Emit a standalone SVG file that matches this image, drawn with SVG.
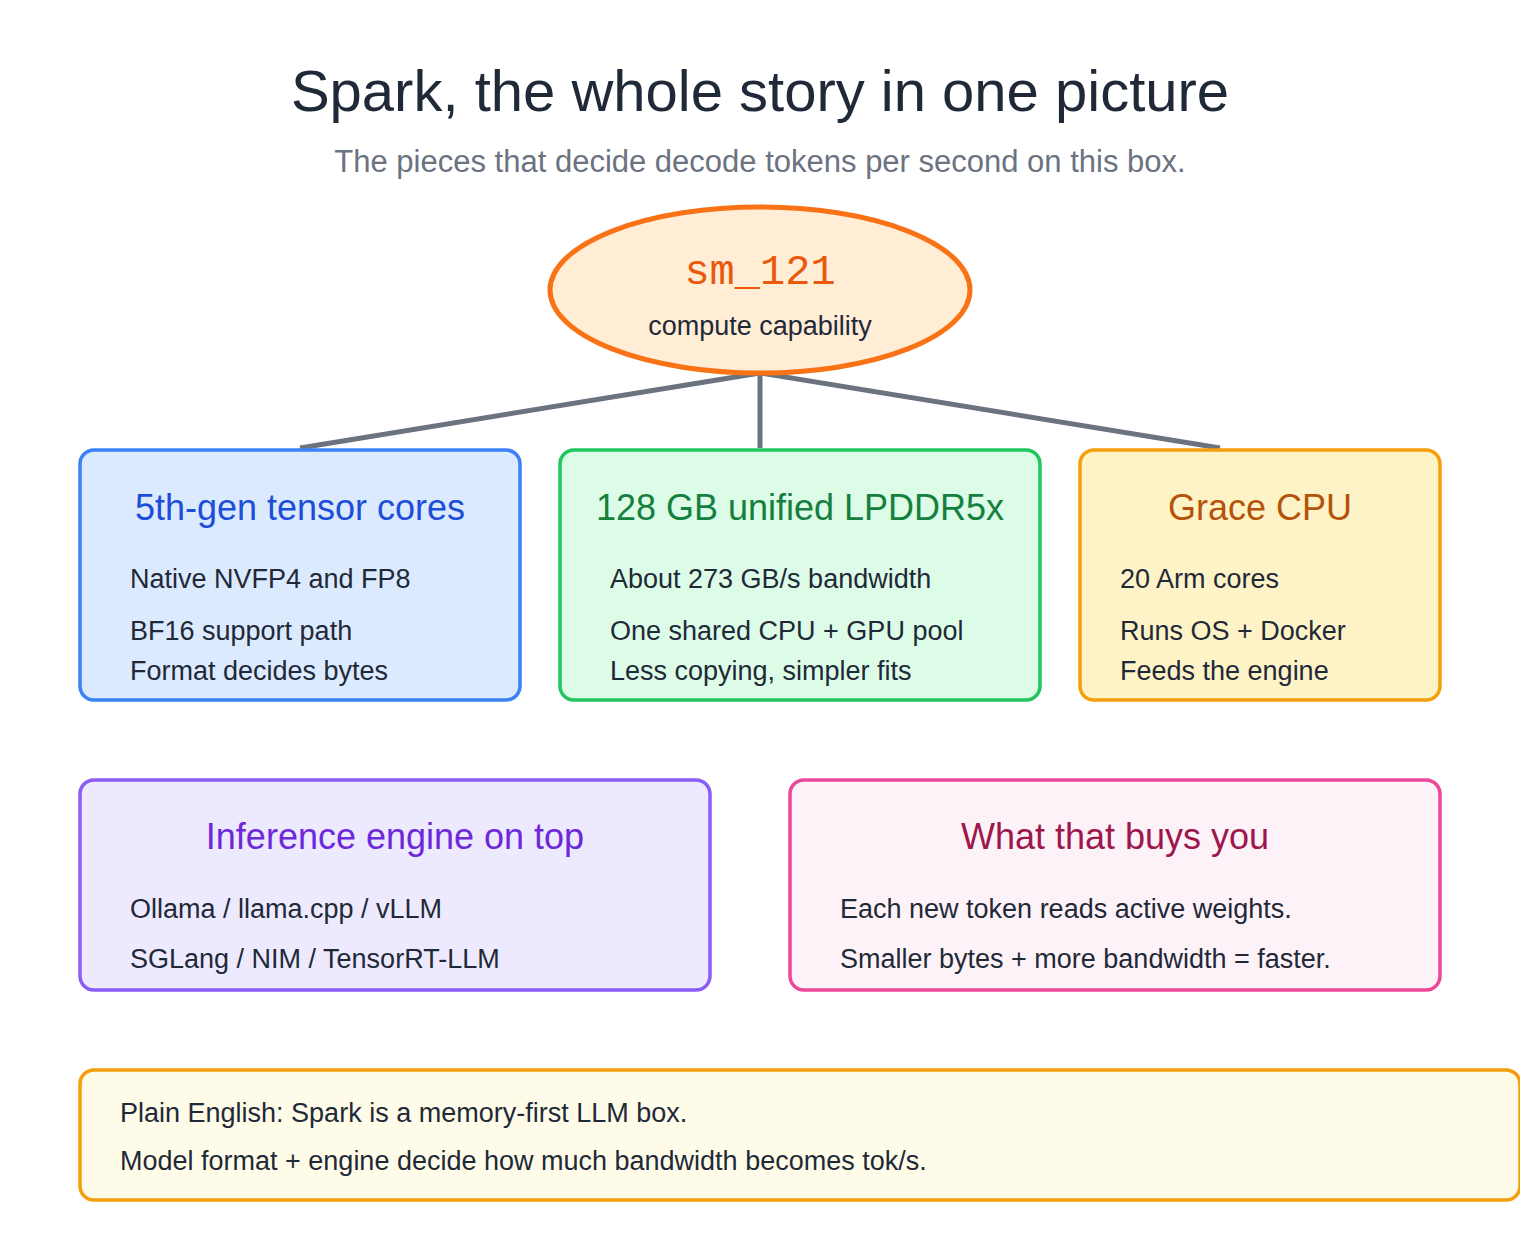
<svg xmlns="http://www.w3.org/2000/svg" width="1520" height="1240" viewBox="0 0 1520 1240">
<style>
text{font-family:"Liberation Sans",Arial,sans-serif;}
.t{font-size:36px;text-anchor:middle;}
.b{font-size:27px;fill:#1f2937;}
.box{stroke-width:3.5;}
</style>
<rect width="1520" height="1240" fill="#ffffff"/>
<text x="760" y="111" font-size="58" text-anchor="middle" fill="#1f2937">Spark, the whole story in one picture</text>
<text x="760" y="172" font-size="31" text-anchor="middle" fill="#6b7280">The pieces that decide decode tokens per second on this box.</text>
<g id="connectors" stroke="#6b7280" stroke-width="5" fill="none">
<line x1="760" y1="373" x2="300" y2="448"/>
<line x1="760" y1="373" x2="760" y2="448"/>
<line x1="760" y1="373" x2="1220" y2="448"/>
</g>
<g id="sm121">
<ellipse cx="760" cy="290" rx="210" ry="83" fill="#ffedd5" stroke="#f97316" stroke-width="5"/>
<text x="760" y="284" font-size="42" text-anchor="middle" fill="#ea580c" style="font-family:'Liberation Mono','DejaVu Sans Mono',monospace">sm_121</text>
<text x="760" y="335" font-size="27" text-anchor="middle" fill="#1f2937">compute capability</text>
</g>
<g id="tensor">
<rect class="box" x="80" y="450" width="440" height="250" rx="14" fill="#dbeafe" stroke="#3b82f6"/>
<text class="t" x="300" y="520" fill="#1d4ed8">5th-gen tensor cores</text>
<text class="b" x="130" y="588">Native NVFP4 and FP8</text>
<text class="b" x="130" y="640">BF16 support path</text>
<text class="b" x="130" y="680">Format decides bytes</text>
</g>
<g id="memory">
<rect class="box" x="560" y="450" width="480" height="250" rx="14" fill="#dcfce7" stroke="#22c55e"/>
<text class="t" x="800" y="520" fill="#15803d">128 GB unified LPDDR5x</text>
<text class="b" x="610" y="588">About 273 GB/s bandwidth</text>
<text class="b" x="610" y="640">One shared CPU + GPU pool</text>
<text class="b" x="610" y="680">Less copying, simpler fits</text>
</g>
<g id="cpu">
<rect class="box" x="1080" y="450" width="360" height="250" rx="14" fill="#fef3c7" stroke="#f59e0b"/>
<text class="t" x="1260" y="520" fill="#b45309">Grace CPU</text>
<text class="b" x="1120" y="588">20 Arm cores</text>
<text class="b" x="1120" y="640">Runs OS + Docker</text>
<text class="b" x="1120" y="680">Feeds the engine</text>
</g>
<g id="engine">
<rect class="box" x="80" y="780" width="630" height="210" rx="14" fill="#ede9fe" stroke="#8b5cf6"/>
<text class="t" x="395" y="849" fill="#6d28d9">Inference engine on top</text>
<text class="b" x="130" y="918">Ollama / llama.cpp / vLLM</text>
<text class="b" x="130" y="968">SGLang / NIM / TensorRT-LLM</text>
</g>
<g id="buys">
<rect class="box" x="790" y="780" width="650" height="210" rx="14" fill="#fdf2f8" stroke="#ec4899"/>
<text class="t" x="1115" y="849" fill="#9d174d">What that buys you</text>
<text class="b" x="840" y="918">Each new token reads active weights.</text>
<text class="b" x="840" y="968">Smaller bytes + more bandwidth = faster.</text>
</g>
<g id="plain">
<rect class="box" x="80" y="1070" width="1440" height="130" rx="14" fill="#fefce8" stroke="#f59e0b"/>
<text class="b" x="120" y="1122">Plain English: Spark is a memory-first LLM box.</text>
<text class="b" x="120" y="1170">Model format + engine decide how much bandwidth becomes tok/s.</text>
</g>
</svg>
